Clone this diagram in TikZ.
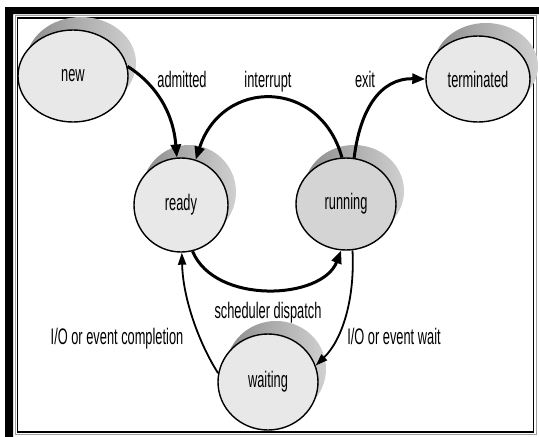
\documentclass[tikz,border=0pt]{standalone}
\usepackage{fontspec}
\setmainfont{Liberation Sans}[FakeStretch=0.57]
\usepackage{tikz}
\usetikzlibrary{shapes.geometric, arrows.meta, shadows}
\definecolor{StateFill}{HTML}{E8E8E8}
\definecolor{RunFill}{HTML}{D4D4D4}
\definecolor{ShadowDark}{HTML}{8C8C8C}
\definecolor{ShadowLight}{HTML}{D0D0D0}
\definecolor{FrameGray}{HTML}{A0A0A0}

\begin{document}
\begin{tikzpicture}[
  x=1pt, y=-1pt,
  every node/.style={font=\fontsize{22.5}{24}\selectfont},
  state/.style={ellipse, draw=black, line width=1.4pt, fill=StateFill, inner sep=0pt,
    general shadow={shadow xshift=8pt, shadow yshift=13pt,
      left color=ShadowDark, right color=ShadowLight}},
  trans/.style={-{Triangle[length=13pt, width=10pt]}, line width=3pt},
  transthin/.style={-{Triangle[length=12pt, width=8pt]}, line width=1.8pt},
  lbl/.style={anchor=base, inner sep=0pt}
]
\useasboundingbox (0,0) rectangle (539,437);
\fill[white] (0,0) rectangle (539,437);

% Frame
\fill[black] (5,7) -- (539,7) -- (539,14) -- (13,14) -- (13,437) -- (5,437) -- cycle;
\draw[FrameGray, line width=1pt] (15,15.5) rectangle (536,434.5);
\draw[black, line width=1.6pt] (17.5,18) rectangle (533.5,432);

% States
\node[state, minimum width=110pt, minimum height=92pt] (new)  at (73,76)  {new};
\node[state, minimum width=94pt, minimum height=94pt]  (ready) at (181,205) {ready};
\node[state, fill=RunFill, minimum width=100pt, minimum height=92pt] (running) at (346,204) {running};
\node[state, minimum width=104pt, minimum height=86pt] (terminated) at (478,79) {terminated};
\node[state, minimum width=100pt, minimum height=96pt] (waiting) at (268,382) {waiting};

% Transitions
\draw[trans] (new.10) .. controls (140,74) and (172,98) .. (ready.95);
\draw[trans] (running.95) .. controls (320,78) and (222,78) .. (ready.72);
\draw[trans] (running.80) .. controls (360,110) and (380,78) .. (terminated.west);
\draw[trans] (ready.-76) .. controls (215,305) and (322,300) .. (running.-96);
\draw[transthin] (running.-82) .. controls (355,300) and (342,340) .. (waiting.19);
\draw[transthin] (waiting.170) .. controls (200,345) and (183,300) .. (ready.-89);

% Labels
\node[lbl] (admitted)  at (182,87)  {admitted};
\node[lbl] (interrupt) at (268,87)  {interrupt};
\node[lbl] (exit)      at (365,87)  {exit};
\node[lbl] (dispatch)  at (268,318) {scheduler dispatch};
\node[lbl] (complete)  at (117,344) {I/O or event completion};
\node[lbl] (iowait)    at (394,344) {I/O or event wait};

\end{tikzpicture}
\end{document}
